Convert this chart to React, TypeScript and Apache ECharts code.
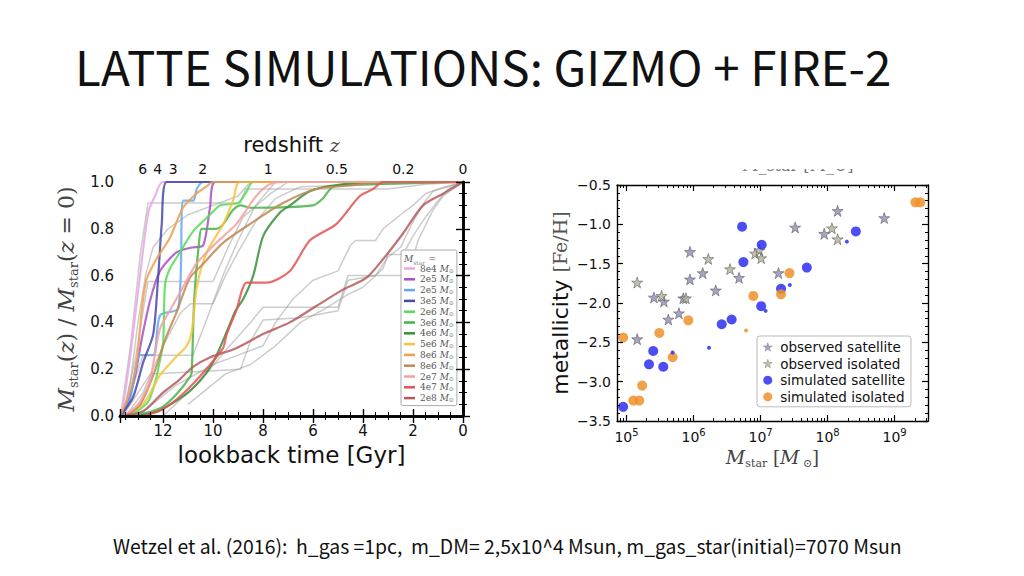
import React, { useEffect, useRef } from "react";
import * as echarts from "echarts";

// ---------- Left panel: cumulative stellar mass vs lookback time ----------
const lookbackMax = 13.72;
const lookbackTicks = [0, 2, 4, 6, 8, 10, 12];
const zLabels = ["6", "4", "3", "2", "1", "0.5", "0.2", "0"];
const zLookback = [12.81, 12.21, 11.59, 10.41, 7.79, 5.05, 2.39, 0];

const leftLabels = ["8e4", "2e5", "2e5", "3e5", "2e6", "3e6", "4e6", "5e6", "8e6", "8e6", "2e7", "4e7", "2e8"];
const leftColors = ["#e7a6e3", "#a550c6", "#62a9f2", "#4a48aa", "#57da57", "#45b445", "#3b8c3b", "#f8c23e", "#f0a04e", "#c08a52", "#f5a0a0", "#e35252", "#b55a5c"];

const m8e4 = [[13.72, 0], [13.65, 0.01], [13.32, 0.25], [12.92, 0.6], [12.59, 0.87], [12.32, 0.94], [12.0, 1.0], [0, 1.0]];
const m2e5a = [[13.72, 0], [13.4, 0.06], [13.1, 0.18], [12.85, 0.33], [12.5, 0.5], [12.12, 0.62], [11.45, 0.7], [10.85, 0.72], [10.39, 0.73], [10.12, 0.89], [9.9, 1.0], [0, 1.0]];
const m2e5b = [[13.65, 0], [13.3, 0.08], [12.92, 0.26], [12.39, 0.26], [12.12, 0.43], [11.39, 0.46], [11.19, 0.92], [10.79, 0.92], [10.65, 0.97], [10.39, 1.0], [0, 1.0]];
const m3e5 = [[13.7, 0], [13.2, 0.08], [12.79, 0.23], [12.39, 0.35], [12.19, 0.6], [12.05, 0.82], [11.85, 1.0], [0, 1.0]];
const m2e6 = [[13.72, 0], [13.2, 0.01], [12.6, 0.06], [12.3, 0.15], [12.1, 0.25], [11.99, 0.32], [11.92, 0.56], [11.72, 0.63], [11.32, 0.7], [10.79, 0.79], [10.12, 0.86], [9.72, 0.9], [9.0, 0.91], [8.7, 0.95], [8.39, 1.0], [0, 1.0]];
const m3e6 = [[13.5, 0], [12.8, 0.01], [12.0, 0.04], [11.4, 0.1], [10.9, 0.17], [10.85, 0.19], [10.75, 0.5], [10.55, 0.75], [10.45, 0.8], [9.87, 0.8], [9.59, 0.82], [9.2, 0.88], [8.9, 0.9], [8.5, 0.89], [6.0, 0.9], [5.6, 0.93], [5.2, 0.98], [4.0, 0.99], [0, 1.0]];
const m4e6 = [[13.0, 0], [12.2, 0.02], [11.0, 0.1], [10.3, 0.18], [9.9, 0.25], [9.45, 0.36], [9.1, 0.45], [8.79, 0.5], [8.39, 0.6], [7.99, 0.77], [7.32, 0.87], [6.92, 0.9], [6.13, 0.96], [5.2, 0.985], [3.2, 1.0], [0, 1.0]];
const m5e6 = [[13.5, 0], [12.8, 0.05], [12.4, 0.12], [12.12, 0.175], [11.5, 0.25], [11.05, 0.3], [10.85, 0.36], [10.65, 0.55], [10.25, 0.7], [9.59, 0.82], [9.2, 0.92], [8.92, 1.0], [0, 1.0]];
const m8e6a = [[13.72, 0], [13.4, 0.08], [13.07, 0.22], [12.85, 0.45], [12.67, 0.58], [12.27, 0.67], [11.73, 0.76], [11.2, 0.89], [10.67, 0.95], [10.27, 0.98], [10.0, 1.0], [0, 1.0]];
const m8e6b = [[13.5, 0], [12.9, 0.05], [12.3, 0.2], [11.9, 0.33], [11.47, 0.44], [10.93, 0.59], [10.4, 0.65], [9.6, 0.74], [8.53, 0.82], [7.2, 0.91], [5.87, 0.97], [4.53, 0.985], [3.2, 1.0], [0, 1.0]];
const m2e7 = [[13.6, 0], [13.0, 0.05], [12.53, 0.15], [12.13, 0.37], [11.73, 0.45], [11.2, 0.55], [10.67, 0.65], [9.87, 0.74], [9.07, 0.82], [8.27, 0.94], [7.73, 0.99], [7.2, 1.0], [0, 1.0]];
const m4e7 = [[12.8, 0], [12.0, 0.03], [11.2, 0.095], [10.27, 0.2], [9.6, 0.29], [9.45, 0.35], [9.07, 0.45], [8.65, 0.57], [7.85, 0.57], [6.92, 0.62], [6.13, 0.75], [5.07, 0.82], [4.13, 0.94], [3.6, 0.97], [3.2, 1.0], [0, 1.0]];
const m2e8 = [[13.72, 0], [12.8, 0.02], [12.0, 0.1], [11.4, 0.15], [10.8, 0.21], [10.13, 0.25], [9.07, 0.29], [8.0, 0.35], [6.93, 0.4], [5.87, 0.47], [4.8, 0.54], [3.87, 0.59], [3.2, 0.67], [2.4, 0.78], [1.6, 0.9], [0.8, 0.95], [0, 1.0]];
const coloredTracks = [m8e4, m2e5a, m2e5b, m3e5, m2e6, m3e6, m4e6, m5e6, m8e6a, m8e6b, m2e7, m4e7, m2e8];

const g1 = [[13.7, 0], [13.3, 0.3], [12.9, 0.7], [12.6, 0.91], [8.9, 0.91], [8.7, 0.97], [3.0, 0.97], [1.5, 0.99], [0, 1]];
const g2 = [[13.6, 0], [13.1, 0.25], [12.6, 0.575], [10.0, 0.575], [9.4, 0.72], [8.8, 0.85], [7.7, 0.95], [7.0, 1], [0, 1]];
const g3 = [[13.6, 0], [12.8, 0.26], [10.8, 0.26], [10.3, 0.4], [9.6, 0.6], [9.0, 0.75], [8.3, 0.9], [7.5, 1.0], [0, 1]];
const g4 = [[13.5, 0], [12.8, 0.1], [12.0, 0.3], [11.3, 0.44], [10.9, 0.48], [10.0, 0.48], [9.5, 0.6], [9.0, 0.7], [8.3, 0.83], [7.5, 0.93], [6.5, 0.98], [0, 1]];
const g5 = [[13.6, 0], [13.0, 0.1], [12.5, 0.18], [10.5, 0.19], [8.9, 0.2], [8.5, 0.32], [8.0, 0.41], [6.5, 0.42], [5.0, 0.45], [4.6, 0.58], [3.5, 0.6], [3.0, 0.68], [2.5, 0.72], [2.0, 0.83], [1.5, 0.92], [1.2, 0.96], [0, 1]];
const g6 = [[12.0, 0], [10.5, 0.15], [9.5, 0.28], [8.5, 0.4], [8.0, 0.465], [5.0, 0.465], [4.6, 0.6], [2.2, 0.6], [1.8, 0.75], [1.2, 0.88], [0.8, 0.94], [0, 1]];
const g7 = [[13.0, 0], [11.5, 0.13], [10.0, 0.22], [9.0, 0.26], [8.0, 0.3], [7.5, 0.4], [6.8, 0.5], [6.0, 0.58], [5.0, 0.62], [4.5, 0.73], [4.3, 0.75], [3.5, 0.75], [3.2, 0.8], [2.5, 0.86], [2.0, 0.9], [1.5, 0.95], [1.0, 0.97], [0, 1]];
const g8 = [[11.0, 0.05], [9.5, 0.18], [8.5, 0.22], [7.5, 0.3], [6.5, 0.4], [5.5, 0.46], [4.6, 0.52], [4.0, 0.55], [3.2, 0.63], [3.0, 0.69], [2.4, 0.69], [2.0, 0.77], [1.5, 0.85], [1.0, 0.92], [0.6, 0.97], [0, 1]];
const g9 = [[13.6, 0], [13.3, 0.15], [13.0, 0.4], [12.7, 0.6], [12.4, 0.72], [11.8, 0.8], [11.0, 0.86], [10.0, 0.9], [9.0, 0.94], [8.5, 1.0], [0, 1]];
const grayTracks = [g1, g2, g3, g4, g5, g6, g7, g8, g9];

// ---------- Right panel: metallicity vs stellar mass ----------
const massMin = 7.2e4;
const massMax = 3.15e9;
const massLabelTicks = [1e5, 1e6, 1e7, 1e8, 1e9];

const obsSatMass = [1.44e5, 2.56e5, 3.61e5, 4.2e5, 6.05e5, 7.03e5, 8.84e5, 8.84e5, 1.37e6, 2.14e6, 4.77e6, 1.85e7, 3.28e7, 8.9e7, 1.41e8, 7.0e8];
const obsSatFeH = [-2.46, -1.93, -1.98, -2.21, -2.13, -1.94, -1.35, -1.70, -1.62, -1.84, -1.68, -1.62, -1.04, -1.12, -0.83, -0.92];
const obsIsoMass = [1.44e5, 3.33e5, 7.7e5, 1.66e6, 3.5e6, 8.28e6, 9.6e6, 1.02e7, 1.16e8, 1.41e8];
const obsIsoFeH = [-1.74, -1.91, -1.94, -1.44, -1.57, -1.37, -1.33, -1.43, -1.05, -1.19];
const simSatMass = [8.9e4, 2.16e5, 2.5e5, 3.53e5, 2.63e6, 3.7e6, 5.3e6, 5.54e6, 1.04e7, 1.02e7, 2.02e7, 4.9e7, 2.64e8];
const simSatFeH = [-3.32, -2.78, -2.61, -2.81, -2.27, -2.21, -1.03, -1.48, -1.26, -2.04, -1.82, -1.55, -1.09];
const simSatSmallMass = [4.87e5, 1.7e6, 1.19e7, 2.73e7, 1.94e8];
const simSatSmallFeH = [-2.63, -2.57, -2.10, -1.77, -1.22];
const simIsoMass = [8.9e4, 1.26e5, 1.55e5, 1.71e5, 3.08e5, 4.87e5, 8.35e5, 7.8e6, 2.02e7, 2.7e7, 2.04e9, 2.42e9];
const simIsoFeH = [-2.44, -3.24, -3.24, -3.05, -2.38, -2.69, -2.22, -1.91, -1.89, -1.62, -0.72, -0.72];
const simIsoSmallMass = [6.07e6];
const simIsoSmallFeH = [-2.35];

const rightNames = ["observed satellite", "observed isolated", "simulated satellite", "simulated isolated"];
const rightColors = ["#8d8db6", "#b3b095", "#2e2ef2", "#f0902c"];

const zip = (xs: number[], ys: number[]) => xs.map((x, i) => [x, ys[i]]);

const STAR = "path://M50,2 L61.5,36 L97,36 L68.5,57.5 L79,92 L50,71 L21,92 L31.5,57.5 L3,36 L38.5,36 Z";
const SANS = "DejaVu Sans";
const SERIF = "DejaVu Serif";

function minorLogTicks(): number[] {
  const out: number[] = [];
  for (let e = 4; e <= 9; e++) {
    for (let k = 2; k <= 9; k++) {
      const v = k * Math.pow(10, e);
      if (v > massMin && v < massMax) out.push(v);
    }
  }
  return out;
}

export default function App() {
  const ref = useRef<HTMLDivElement>(null);
  useEffect(() => {
    if (!ref.current) return;
    const chart = echarts.init(ref.current, undefined, { renderer: "svg" });

    const axisLine = { show: true, lineStyle: { color: "#000", width: 2.6 } };
    const tickL = { show: true, inside: true, length: 7, lineStyle: { color: "#000", width: 1.4 } };
    const minorL = { show: true, splitNumber: 4, length: 4, lineStyle: { color: "#000", width: 1 } };
    const tickR = { show: true, inside: true, length: 6, lineStyle: { color: "#000", width: 1.2 } };

    const series: any[] = [];
    grayTracks.forEach((d) => {
      series.push({
        type: "line", xAxisIndex: 0, yAxisIndex: 0, data: d, showSymbol: false, silent: true, z: 1,
        lineStyle: { color: "#9a9a9a", width: 1.5, opacity: 0.5 },
      });
    });
    coloredTracks.forEach((d, i) => {
      series.push({
        name: "L" + i, type: "line", xAxisIndex: 0, yAxisIndex: 0, data: d, showSymbol: false, z: 3,
        smooth: 0.25, color: leftColors[i],
        lineStyle: { color: leftColors[i], width: 2.2, opacity: 0.85 },
      });
    });

    const starStyle = (fill: string) => ({ color: fill, borderColor: "#555", borderWidth: 0.7 });
    series.push(
      { name: rightNames[0], type: "scatter", xAxisIndex: 2, yAxisIndex: 2, symbol: STAR, symbolSize: 11, data: zip(obsSatMass, obsSatFeH), itemStyle: starStyle(rightColors[0]), z: 3 },
      { name: rightNames[1], type: "scatter", xAxisIndex: 2, yAxisIndex: 2, symbol: STAR, symbolSize: 11, data: zip(obsIsoMass, obsIsoFeH), itemStyle: starStyle(rightColors[1]), z: 3 },
      { name: rightNames[2], type: "scatter", xAxisIndex: 2, yAxisIndex: 2, symbol: "circle", symbolSize: 10, data: zip(simSatMass, simSatFeH), itemStyle: { color: rightColors[2], opacity: 0.85 }, z: 4 },
      { name: rightNames[3], type: "scatter", xAxisIndex: 2, yAxisIndex: 2, symbol: "circle", symbolSize: 10, data: zip(simIsoMass, simIsoFeH), itemStyle: { color: rightColors[3], opacity: 0.85 }, z: 4 },
      { name: "simSatSmall", type: "scatter", xAxisIndex: 2, yAxisIndex: 2, symbol: "circle", symbolSize: 4, data: zip(simSatSmallMass, simSatSmallFeH), itemStyle: { color: rightColors[2], opacity: 0.85 }, z: 4 },
      { name: "simIsoSmall", type: "scatter", xAxisIndex: 2, yAxisIndex: 2, symbol: "circle", symbolSize: 4, data: zip(simIsoSmallMass, simIsoSmallFeH), itemStyle: { color: rightColors[3], opacity: 0.85 }, z: 4 }
    );

    const serifRichBig = {
      i: { fontFamily: SERIF, fontStyle: "italic", fontSize: 23, color: "#444", lineHeight: 28 },
      n: { fontFamily: SERIF, fontSize: 22, color: "#444", lineHeight: 28 },
      s: { fontFamily: SERIF, fontSize: 13, color: "#444", lineHeight: 15, verticalAlign: "bottom" },
    };
    const serifRich = {
      i: { fontFamily: SERIF, fontStyle: "italic", fontSize: 19, color: "#444", lineHeight: 24 },
      n: { fontFamily: SERIF, fontSize: 18, color: "#444", lineHeight: 24 },
      s: { fontFamily: SERIF, fontSize: 11, color: "#444", lineHeight: 13, verticalAlign: "bottom" },
    };

    const option: any = {
      animation: false,
      backgroundColor: "#fff",
      grid: [
        { left: 120, top: 182, width: 343, height: 234 },
        { left: 617, top: 185, width: 311, height: 236 },
      ],
      xAxis: [
        {
          gridIndex: 0, type: "value", min: 0, max: lookbackMax, interval: 2, inverse: true, position: "bottom", z: 10,
          axisLine, axisTick: tickL, minorTick: minorL, splitLine: { show: false },
          axisLabel: { customValues: lookbackTicks, fontFamily: SANS, fontSize: 15, color: "#111", margin: 7, formatter: (v: number) => String(Math.round(v)) },
          name: "lookback time [Gyr]", nameLocation: "middle", nameGap: 27,
          nameTextStyle: { fontFamily: SANS, fontSize: 23, color: "#111" },
        },
        {
          gridIndex: 0, type: "value", min: 0, max: lookbackMax, interval: 2, inverse: true, position: "top", z: 10,
          axisLine, axisTick: tickL, minorTick: minorL, splitLine: { show: false },
          axisLabel: {
            customValues: zLookback, fontFamily: SANS, fontSize: 14, color: "#111", margin: 6,
            formatter: (v: number) => {
              const i = zLookback.findIndex((x) => Math.abs(x - v) < 1e-6);
              return i >= 0 ? zLabels[i] : "";
            },
          },
          name: "{a|redshift }{z|z}", nameLocation: "middle", nameGap: 27,
          nameTextStyle: { rich: { a: { fontFamily: SANS, fontSize: 21, color: "#111" }, z: { fontFamily: SERIF, fontStyle: "italic", fontSize: 19, color: "#444" } } },
        },
        {
          gridIndex: 1, type: "log", logBase: 10, min: massMin, max: massMax, position: "bottom", z: 10,
          axisLine: { show: true, lineStyle: { color: "#000", width: 1.4 } },
          axisTick: { ...tickR, customValues: massLabelTicks }, splitLine: { show: false },
          axisLabel: {
            customValues: massLabelTicks, margin: 6, color: "#111",
            formatter: (v: number) => "{b|10}{p|" + Math.round(Math.log10(v)) + "}",
            rich: {
              b: { fontFamily: SANS, fontSize: 14, color: "#111", lineHeight: 20 },
              p: { fontFamily: SANS, fontSize: 10, color: "#111", lineHeight: 11, verticalAlign: "top" },
            },
          },
          name: "{i|M}{s|star}{n| [}{i|M}{s| ⊙}{n|]}", nameLocation: "middle", nameGap: 24,
          nameTextStyle: { rich: serifRich },
        },
        {
          gridIndex: 1, type: "log", logBase: 10, min: massMin, max: massMax, position: "top", z: 10,
          axisLine: { show: true, lineStyle: { color: "#000", width: 1.4 } },
          axisTick: { ...tickR, customValues: massLabelTicks }, axisLabel: { show: false }, splitLine: { show: false },
        },
        {
          gridIndex: 1, type: "log", logBase: 10, min: massMin, max: massMax, position: "bottom",
          axisLine: { show: false }, axisTick: { show: true, inside: true, length: 3, customValues: minorLogTicks(), lineStyle: { color: "#000", width: 1 } },
          axisLabel: { show: false }, splitLine: { show: false },
        },
        {
          gridIndex: 1, type: "log", logBase: 10, min: massMin, max: massMax, position: "top",
          axisLine: { show: false }, axisTick: { show: true, inside: true, length: 3, customValues: minorLogTicks(), lineStyle: { color: "#000", width: 1 } },
          axisLabel: { show: false }, splitLine: { show: false },
        },
      ],
      yAxis: [
        {
          gridIndex: 0, type: "value", min: 0, max: 1, interval: 0.2, position: "left", z: 10,
          axisLine, axisTick: tickL, minorTick: minorL, splitLine: { show: false },
          axisLabel: { fontFamily: SANS, fontSize: 15, color: "#111", margin: 6, formatter: (v: number) => v.toFixed(1) },
          name: "{i|M}{s|star}{n|(}{i|z}{n|) / }{i|M}{s|star}{n|(}{i|z}{n| = 0)}", nameLocation: "middle", nameGap: 40,
          nameTextStyle: { rich: serifRichBig },
        },
        {
          gridIndex: 0, type: "value", min: 0, max: 1, interval: 0.2, position: "right", z: 10,
          axisLine, axisTick: tickL, minorTick: minorL, splitLine: { show: false }, axisLabel: { show: false },
        },
        {
          gridIndex: 1, type: "value", min: -3.5, max: -0.5, interval: 0.5, position: "left", z: 10,
          axisLine: { show: true, lineStyle: { color: "#000", width: 1.4 } },
          axisTick: tickR, minorTick: { show: true, splitNumber: 5, length: 3, lineStyle: { color: "#000", width: 1 } }, splitLine: { show: false },
          axisLabel: { fontFamily: SANS, fontSize: 14, color: "#111", margin: 6, formatter: (v: number) => v.toFixed(1).replace("-", "\u2212") },
          name: "{a|metallicity }{b|[Fe/H]}", nameLocation: "middle", nameGap: 46,
          nameTextStyle: { rich: { a: { fontFamily: SANS, fontSize: 22, color: "#111" }, b: { fontFamily: SERIF, fontSize: 19, color: "#555" } } },
        },
        {
          gridIndex: 1, type: "value", min: -3.5, max: -0.5, interval: 0.5, position: "right", z: 10,
          axisLine: { show: true, lineStyle: { color: "#000", width: 1.4 } },
          axisTick: tickR, minorTick: { show: true, splitNumber: 5, length: 3, lineStyle: { color: "#000", width: 1 } },
          splitLine: { show: false }, axisLabel: { show: false },
        },
      ],
      legend: [
        {
          data: coloredTracks.map((_, i) => "L" + i),
          orient: "vertical", left: 401, top: 250, padding: [14, 3, 3, 3], itemGap: 1.8, itemWidth: 11, itemHeight: 2.5, icon: "rect",
          backgroundColor: "rgba(255,255,255,0.85)", borderColor: "#aaa", borderWidth: 1, borderRadius: 2,
          selectedMode: false,
          formatter: (name: string) => "{t|" + leftLabels[+name.slice(1)] + " }{i|M}{s|⊙}",
          textStyle: {
            lineHeight: 9,
            rich: {
              t: { fontFamily: SERIF, fontSize: 9, color: "#555", lineHeight: 9 },
              i: { fontFamily: SERIF, fontStyle: "italic", fontSize: 9, color: "#555", lineHeight: 9 },
              s: { fontFamily: SERIF, fontSize: 6, color: "#888", lineHeight: 6, verticalAlign: "bottom" },
            },
          },
        },
        {
          data: [
            { name: rightNames[0], icon: STAR, itemStyle: { color: rightColors[0], borderColor: "#777", borderWidth: 0.5 } },
            { name: rightNames[1], icon: STAR, itemStyle: { color: rightColors[1], borderColor: "#777", borderWidth: 0.5 } },
            { name: rightNames[2], icon: "circle", itemStyle: { color: rightColors[2], opacity: 0.85 } },
            { name: rightNames[3], icon: "circle", itemStyle: { color: rightColors[3], opacity: 0.85 } },
          ],
          orient: "vertical", left: 757, top: 336, padding: [4, 6, 3, 6], itemGap: 2.6,
          itemWidth: 9, itemHeight: 9, selectedMode: false,
          borderColor: "#bbb", borderWidth: 1, borderRadius: 3, backgroundColor: "#fff",
          textStyle: { fontFamily: SANS, fontSize: 13.5, color: "#111", padding: [0, 0, 0, 3] },
        },
      ],
      graphic: [
        {
          type: "text", left: 75, top: 42, z: 10,
          style: { text: "LATTE SIMULATIONS: GIZMO + FIRE-2", fontFamily: "Noto Sans CJK KR", fontSize: 47.5, fill: "#111" },
        },
        {
          type: "text", left: 113, top: 536, z: 10,
          style: { text: "Wetzel et al. (2016):\u00a0\u00a0h_gas =1pc,\u00a0\u00a0m_DM= 2,5x10^4 Msun, m_gas_star(initial)=7070 Msun", fontFamily: "Noto Sans CJK KR", fontSize: 19.4, fill: "#111" },
        },
        {
          type: "text", left: 404, top: 253, z: 20,
          style: {
            text: "{i|M}{s|star} {t|=}",
            rich: {
              i: { fontFamily: SERIF, fontStyle: "italic", fontSize: 9, fill: "#555" },
              s: { fontFamily: SERIF, fontSize: 6, fill: "#888", verticalAlign: "bottom" },
              t: { fontFamily: SERIF, fontSize: 9, fill: "#555" },
            },
          },
        },
        {
          type: "text", left: 742, top: 157, z: 10,
          style: { text: "M_star [M_\u2299]", fontFamily: SERIF, fontSize: 16, fill: "#777" },
        },
        { type: "rect", left: 700, top: 140, z: 11, shape: { width: 160, height: 29 }, style: { fill: "#fff" } },
      ],
      series,
    };
    chart.setOption(option);
    return () => chart.dispose();
  }, []);
  return <div ref={ref} style={{ position: "absolute", left: 0, top: 0, width: 1024, height: 576 }} />;
}
